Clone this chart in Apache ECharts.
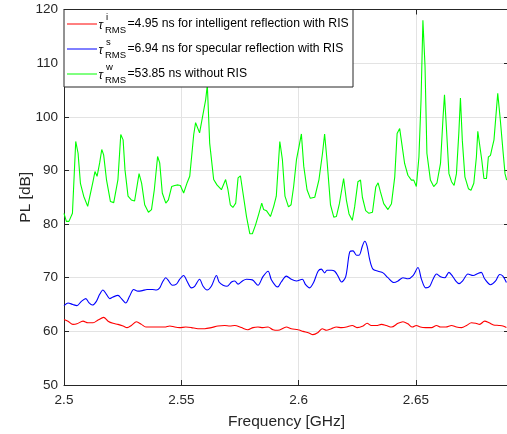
<!DOCTYPE html>
<html>
<head>
<meta charset="utf-8">
<script src="https://cdn.jsdelivr.net/npm/echarts@6/dist/echarts.min.js"></script>
<style>
  html, body { margin: 0; padding: 0; background: #fff; }
  #chart { width: 507px; height: 434px; }
</style>
</head>
<body>
<div id="chart"></div>
<script>
// x ticks and y range
const xTicks = [2.5, 2.55, 2.6, 2.65];
const yTicks = [50, 60, 70, 80, 90, 100, 110, 120];

// tau_RMS^w : without RIS (green)
const freqGreen = [
  2.5000, 2.5010, 2.5021, 2.5036, 2.5050, 2.5060, 2.5070, 2.5084, 2.5101, 2.5124,
  2.5132, 2.5141, 2.5152, 2.5161, 2.5169, 2.5181, 2.5198, 2.5212, 2.5230, 2.5242,
  2.5252, 2.5260, 2.5273, 2.5287, 2.5301, 2.5320, 2.5331, 2.5344, 2.5360, 2.5373,
  2.5385, 2.5399, 2.5408, 2.5419, 2.5434, 2.5445, 2.5459, 2.5472, 2.5486, 2.5496,
  2.5510, 2.5524, 2.5536, 2.5553, 2.5561, 2.5578, 2.5596, 2.5604, 2.5611, 2.5621,
  2.5638, 2.5652, 2.5671, 2.5689, 2.5699, 2.5709, 2.5720, 2.5732, 2.5742, 2.5752,
  2.5763, 2.5778, 2.5792, 2.5803, 2.5817, 2.5831, 2.5843, 2.5851, 2.5863, 2.5880,
  2.5894, 2.5905, 2.5920, 2.5931, 2.5942, 2.5957, 2.5968, 2.5979, 2.5991, 2.6002,
  2.6012, 2.6022, 2.6036, 2.6050, 2.6069, 2.6087, 2.6102, 2.6111, 2.6121, 2.6136,
  2.6150, 2.6161, 2.6174, 2.6192, 2.6204, 2.6215, 2.6229, 2.6239, 2.6253, 2.6264,
  2.6272, 2.6286, 2.6300, 2.6315, 2.6329, 2.6339, 2.6349, 2.6363, 2.6381, 2.6396,
  2.6410, 2.6420, 2.6431, 2.6440, 2.6452, 2.6466, 2.6481, 2.6491, 2.6502, 2.6513,
  2.6522, 2.6530, 2.6539, 2.6547, 2.6562, 2.6576, 2.6590, 2.6605, 2.6616, 2.6622,
  2.6630, 2.6641, 2.6652, 2.6663, 2.6673, 2.6683, 2.6690, 2.6698, 2.6709, 2.6724,
  2.6735, 2.6747, 2.6758, 2.6764, 2.6772, 2.6781, 2.6790, 2.6801, 2.6809, 2.6818,
  2.6826, 2.6833, 2.6840, 2.6849, 2.6860, 2.6871, 2.6880, 2.6887
];
const plGreen = [
  82.0, 80.5, 80.5, 82.0, 95.4, 93.2, 87.6, 85.2, 83.3, 88.0,
  89.8, 88.9, 91.4, 93.9, 92.9, 88.3, 84.2, 84.0, 88.3, 96.7,
  95.7, 90.1, 85.2, 84.5, 84.3, 89.4, 87.6, 83.6, 82.2, 82.7,
  86.4, 92.6, 91.4, 85.8, 83.9, 84.5, 87.0, 87.2, 87.3, 87.2,
  85.8, 87.6, 88.9, 96.7, 98.9, 97.0, 101.3, 103.2, 105.9, 95.1,
  88.3, 87.3, 86.4, 88.3, 86.4, 83.6, 83.1, 83.9, 88.6, 89.0,
  85.8, 81.4, 78.2, 78.2, 79.9, 82.0, 83.9, 82.7, 82.5, 81.4,
  83.3, 85.2, 95.4, 92.0, 85.2, 83.2, 83.6, 87.0, 92.0, 94.5,
  96.8, 90.8, 86.4, 84.8, 85.0, 88.3, 93.2, 96.8, 92.0, 83.6,
  81.3, 81.4, 83.8, 88.5, 84.4, 81.9, 80.7, 83.2, 87.9, 88.2,
  85.0, 82.5, 82.0, 82.2, 86.9, 87.7, 86.0, 83.8, 82.7, 83.8,
  88.8, 96.9, 97.8, 95.0, 91.3, 89.1, 88.2, 88.2, 87.0, 92.5,
  103.1, 118.0, 109.4, 93.2, 88.2, 87.0, 87.7, 91.3, 100.0, 104.1,
  98.1, 89.4, 87.9, 87.2, 89.4, 96.9, 103.5, 95.6, 88.8, 86.6,
  86.3, 87.6, 92.5, 97.3, 97.2, 91.9, 88.5, 88.5, 92.5, 92.8,
  94.4, 95.7, 95.8, 104.4, 99.4, 93.8, 89.4, 88.2
];

// tau_RMS^s : specular reflection with RIS (blue)
const freqBlue = [
  2.5000, 2.5017, 2.5038, 2.5055, 2.5074, 2.5093, 2.5107, 2.5121, 2.5138, 2.5152,
  2.5166, 2.5181, 2.5195, 2.5209, 2.5230, 2.5245, 2.5263, 2.5280, 2.5297, 2.5315,
  2.5334, 2.5354, 2.5377, 2.5394, 2.5408, 2.5419, 2.5434, 2.5443, 2.5462, 2.5479,
  2.5493, 2.5510, 2.5524, 2.5543, 2.5557, 2.5578, 2.5593, 2.5610, 2.5628, 2.5650,
  2.5661, 2.5678, 2.5695, 2.5714, 2.5728, 2.5742, 2.5761, 2.5778, 2.5803, 2.5827,
  2.5848, 2.5870, 2.5884, 2.5902, 2.5912, 2.5926, 2.5948, 2.5969, 2.5991, 2.6016,
  2.6030, 2.6047, 2.6064, 2.6083, 2.6097, 2.6111, 2.6121, 2.6140, 2.6154, 2.6168,
  2.6183, 2.6201, 2.6218, 2.6232, 2.6247, 2.6258, 2.6272, 2.6282, 2.6292, 2.6303,
  2.6317, 2.6339, 2.6360, 2.6381, 2.6406, 2.6424, 2.6445, 2.6466, 2.6488, 2.6509,
  2.6524, 2.6542, 2.6559, 2.6573, 2.6588, 2.6605, 2.6623, 2.6641, 2.6656, 2.6670,
  2.6684, 2.6701, 2.6722, 2.6744, 2.6765, 2.6779, 2.6793, 2.6818, 2.6840, 2.6857,
  2.6871, 2.6886
];
const plBlue = [
  64.8, 65.3, 65.0, 64.8, 65.6, 66.1, 65.3, 64.9, 65.6, 66.9,
  67.7, 66.9, 66.1, 66.4, 66.7, 66.1, 65.3, 66.6, 67.8, 67.5,
  67.6, 67.8, 67.8, 67.7, 68.1, 69.1, 70.0, 69.6, 68.6, 68.8,
  69.7, 70.4, 69.4, 68.1, 68.4, 69.7, 68.4, 67.7, 68.4, 70.4,
  69.2, 68.6, 68.4, 69.2, 69.4, 68.8, 69.4, 69.7, 69.6, 68.6,
  70.2, 71.2, 69.6, 68.5, 68.3, 69.2, 70.3, 69.7, 69.4, 69.7,
  68.7, 68.1, 69.1, 71.2, 71.6, 70.9, 71.4, 71.4, 71.2, 70.3,
  69.2, 70.2, 74.8, 75.0, 74.2, 74.2, 75.9, 76.8, 75.9, 73.4,
  71.6, 71.2, 70.9, 70.0, 69.1, 69.4, 70.0, 69.8, 70.4, 71.9,
  69.7, 68.1, 68.4, 69.7, 70.7, 70.2, 70.0, 71.0, 70.3, 69.4,
  68.9, 69.5, 70.7, 70.4, 70.8, 71.0, 69.8, 68.7, 69.4, 70.6,
  70.3, 69.1
];

// tau_RMS^i : intelligent reflection with RIS (red)
const freqRed = [
  2.5000, 2.5017, 2.5038, 2.5055, 2.5081, 2.5102, 2.5124, 2.5145, 2.5169, 2.5188,
  2.5209, 2.5230, 2.5252, 2.5269, 2.5287, 2.5309, 2.5330, 2.5349, 2.5373, 2.5401,
  2.5429, 2.5451, 2.5472, 2.5493, 2.5519, 2.5543, 2.5571, 2.5600, 2.5628, 2.5656,
  2.5685, 2.5707, 2.5728, 2.5756, 2.5784, 2.5806, 2.5827, 2.5848, 2.5870, 2.5891,
  2.5912, 2.5948, 2.5969, 2.5998, 2.6019, 2.6044, 2.6061, 2.6083, 2.6101, 2.6119,
  2.6140, 2.6161, 2.6183, 2.6204, 2.6229, 2.6249, 2.6275, 2.6292, 2.6310, 2.6332,
  2.6353, 2.6374, 2.6396, 2.6424, 2.6445, 2.6466, 2.6485, 2.6502, 2.6519, 2.6542,
  2.6567, 2.6588, 2.6605, 2.6628, 2.6652, 2.6673, 2.6695, 2.6716, 2.6737, 2.6755,
  2.6772, 2.6793, 2.6812, 2.6831, 2.6854, 2.6871, 2.6886
];
const plRed = [
  62.2, 61.9, 61.3, 61.4, 61.9, 61.6, 61.6, 62.1, 62.6, 61.9,
  61.5, 61.3, 61.0, 60.7, 61.1, 61.8, 61.3, 60.8, 60.8, 60.8,
  60.8, 61.0, 60.8, 60.7, 60.8, 60.7, 60.5, 60.5, 60.7, 61.0,
  61.1, 61.0, 61.1, 60.7, 60.3, 60.7, 60.8, 60.7, 60.8, 60.3,
  60.2, 60.8, 60.5, 60.3, 60.0, 59.7, 59.4, 59.8, 60.5, 60.2,
  60.5, 60.8, 60.7, 60.8, 61.1, 60.7, 61.0, 61.5, 61.1, 61.1,
  61.3, 61.1, 60.8, 61.5, 61.8, 61.4, 60.8, 61.1, 60.8, 60.7,
  60.7, 61.1, 60.8, 60.8, 61.1, 60.8, 60.7, 61.1, 61.6, 61.5,
  61.3, 61.9, 61.6, 61.2, 61.1, 61.0, 60.7
];

// legend entries: superscript, main text, colour
const legendSup = ['i', 's', 'w'];
const legendText = [
  '=4.95 ns for intelligent reflection with RIS',
  '=6.94 ns for specular reflection with RIS',
  '=53.85 ns without RIS'
];
const legendColors = ['#ff0000', '#0000ff', '#00ff00'];

const FONT = '"Liberation Sans", Arial, Helvetica, sans-serif';
const INK = '#262626';

function pairs(xs, ys) {
  return xs.map((x, i) => [x, ys[i]]);
}

function fmtTick(v) {
  return String(Math.round(v * 1000) / 1000);
}

// MATLAB style legend box built with graphic elements
function buildLegend() {
  const els = [{
    type: 'rect',
    shape: { x: 64, y: 9.5, width: 289, height: 77.5 },
    style: { fill: '#fff', stroke: INK, lineWidth: 1 },
    z: 100
  }];
  const rowY = [24, 49, 74];
  legendText.forEach((txt, i) => {
    const y = rowY[i];
    els.push({
      type: 'line',
      shape: { x1: 67, y1: y, x2: 97, y2: y },
      style: { stroke: legendColors[i], lineWidth: 1 },
      z: 101
    });
    els.push({
      type: 'text', x: 98.5, y: y + 1.5, z: 101,
      style: { text: 'τ', font: 'italic 12px ' + FONT, fill: '#000', verticalAlign: 'middle' }
    });
    els.push({
      type: 'text', x: 106, y: y - 6.5, z: 101,
      style: { text: legendSup[i], font: '9.5px ' + FONT, fill: '#000', verticalAlign: 'middle' }
    });
    els.push({
      type: 'text', x: 105, y: y + 6, z: 101,
      style: { text: 'RMS', font: '9.5px ' + FONT, fill: '#000', verticalAlign: 'middle' }
    });
    els.push({
      type: 'text', x: 127.5, y: y, z: 101,
      style: { text: txt, font: '12.2px ' + FONT, fill: '#000', verticalAlign: 'middle' }
    });
  });
  return els;
}

const chart = echarts.init(document.getElementById('chart'), null, { renderer: 'canvas' });

const option = {
  animation: false,
  backgroundColor: '#fff',
  textStyle: { fontFamily: FONT },
  grid: {
    left: 64, right: -2, top: 9.5, bottom: 49,
    containLabel: false,
    outerBoundsMode: 'none'
  },
  xAxis: [
    {
      type: 'value',
      min: 2.5,
      max: 2.6897,
      interval: 0.05,
      name: 'Frequency [GHz]',
      nameLocation: 'middle',
      nameGap: 29,
      nameMoveOverlap: false,
      nameTextStyle: { fontSize: 15.5, color: INK, fontFamily: FONT },
      axisLine: { show: true, onZero: false, lineStyle: { color: INK, width: 1 } },
      axisTick: { show: true, inside: true, length: 5, lineStyle: { color: INK } },
      axisLabel: {
        fontSize: 13.5, color: INK, margin: 8, fontFamily: FONT,
        showMaxLabel: false, formatter: fmtTick
      },
      splitLine: { show: true, lineStyle: { color: '#e3e3e3', width: 1 } }
    },
    {
      type: 'value',
      position: 'top',
      min: 2.5,
      max: 2.6897,
      interval: 0.05,
      axisLine: { show: true, onZero: false, lineStyle: { color: INK, width: 1 } },
      axisTick: { show: true, inside: true, length: 5, lineStyle: { color: INK } },
      axisLabel: { show: false },
      splitLine: { show: false }
    }
  ],
  yAxis: [
    {
      type: 'value',
      min: 50,
      max: 120,
      interval: 10,
      name: 'PL [dB]',
      nameLocation: 'middle',
      nameGap: 30,
      nameMoveOverlap: false,
      nameTextStyle: { fontSize: 15.5, color: INK, fontFamily: FONT },
      axisLine: { show: true, onZero: false, lineStyle: { color: INK, width: 1 } },
      axisTick: { show: true, inside: true, length: 5, lineStyle: { color: INK } },
      axisLabel: { fontSize: 13.5, color: INK, margin: 6, fontFamily: FONT },
      splitLine: { show: true, lineStyle: { color: '#e3e3e3', width: 1 } }
    },
    {
      type: 'value',
      position: 'right',
      min: 50,
      max: 120,
      interval: 10,
      axisLine: { show: true, onZero: false, lineStyle: { color: INK, width: 1 } },
      axisTick: { show: true, inside: true, length: 5, lineStyle: { color: INK } },
      axisLabel: { show: false },
      splitLine: { show: false }
    }
  ],
  series: [
    {
      name: 'intelligent',
      type: 'line',
      data: pairs(freqRed, plRed),
      showSymbol: false,
      smooth: 0.3,
      lineStyle: { color: legendColors[0], width: 1.1 },
      itemStyle: { color: legendColors[0] }
    },
    {
      name: 'specular',
      type: 'line',
      data: pairs(freqBlue, plBlue),
      showSymbol: false,
      smooth: 0.3,
      lineStyle: { color: legendColors[1], width: 1.1 },
      itemStyle: { color: legendColors[1] }
    },
    {
      name: 'without',
      type: 'line',
      data: pairs(freqGreen, plGreen),
      showSymbol: false,
      smooth: false,
      lineStyle: { color: legendColors[2], width: 1.1 },
      itemStyle: { color: legendColors[2] }
    }
  ],
  graphic: buildLegend()
};

chart.setOption(option);
window.addEventListener('resize', chart.resize);
</script>
</body>
</html>
